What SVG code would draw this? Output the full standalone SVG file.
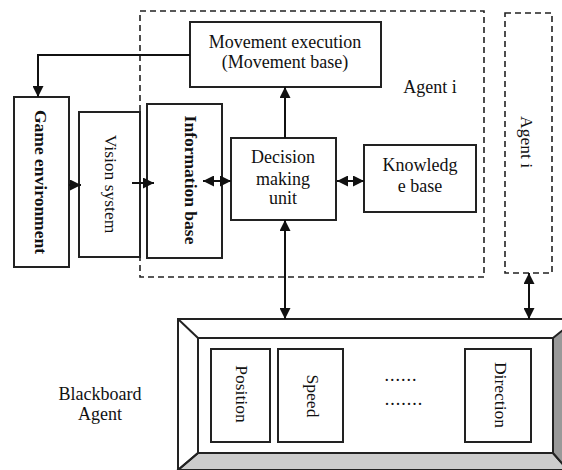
<svg xmlns="http://www.w3.org/2000/svg" width="562" height="470" viewBox="0 0 562 470" font-family="'Liberation Serif', 'DejaVu Serif', serif">
<defs>
<marker id="ah" viewBox="0 0 10 10" refX="10" refY="5" markerWidth="11" markerHeight="11" markerUnits="userSpaceOnUse" orient="auto-start-reverse">
<path d="M0,0 L10,5 L0,10 z" fill="#111"/>
</marker>
</defs>
<style>
.box{fill:#fff;stroke:#222;stroke-width:2}
.dash{fill:none;stroke:#222;stroke-width:1.6;stroke-dasharray:6,4}
.t{font-size:18px;fill:#111;text-anchor:middle}
.r{font-size:17.5px;fill:#111;text-anchor:middle;dominant-baseline:central}
.b{font-weight:bold}
.ln{fill:none;stroke:#111;stroke-width:2}
</style>
<rect width="562" height="470" fill="#fff"/>

<g id="agent-i">
<rect class="dash" x="140" y="11" width="344" height="266"/>
<text class="t" x="430" y="93">Agent i</text>
</g>
<g id="agent-j">
<rect class="dash" x="505" y="13" width="47" height="260"/>
<text class="r" transform="translate(527,142) rotate(90)">Agent i</text>
</g>

<g id="movement">
<rect class="box" x="190" y="22" width="191" height="65"/>
<text class="t" x="285" y="48">Movement execution</text>
<text class="t" x="285" y="68">(Movement base)</text>
</g>
<g id="game-env">
<rect class="box" x="14" y="97" width="55" height="170"/>
<text class="r b" transform="translate(41,182) rotate(90)">Game environment</text>
</g>
<g id="vision">
<rect class="box" x="79" y="112" width="61" height="145"/>
<text class="r" transform="translate(111,184) rotate(90)">Vision system</text>
</g>
<g id="info">
<rect class="box" x="147" y="104" width="75" height="154"/>
<text class="r b" transform="translate(191,180) rotate(90)">Information base</text>
</g>
<g id="decision">
<rect class="box" x="231" y="138" width="105" height="82"/>
<text class="t" x="283" y="163">Decision</text>
<text class="t" x="283" y="185">making</text>
<text class="t" x="283" y="204">unit</text>
</g>
<g id="knowledge">
<rect class="box" x="364" y="145" width="112" height="67"/>
<text class="t" x="420" y="171">Knowledg</text>
<text class="t" x="420" y="192">e base</text>
</g>

<g id="blackboard">
<rect x="178" y="319" width="390" height="160" fill="#fff" stroke="#222" stroke-width="2"/>
<polygon points="198,453 553,453 568,470 178,470" fill="#cccccc" stroke="#222" stroke-width="2"/>
<polygon points="553,338 568,326 568,470 553,453" fill="#999999" stroke="#222" stroke-width="2"/>
<line x1="178" y1="319" x2="198" y2="338" stroke="#222" stroke-width="2"/>
<line x1="178" y1="470" x2="198" y2="453" stroke="#222" stroke-width="2"/>
<rect x="198" y="338" width="355" height="115" fill="#fff" stroke="#222" stroke-width="2"/>
<text class="t" x="100" y="400">Blackboard</text>
<text class="t" x="100" y="420">Agent</text>
</g>
<g id="position">
<rect class="box" x="211" y="349" width="59" height="93"/>
<text class="r" transform="translate(242,394) rotate(90)">Position</text>
</g>
<g id="speed">
<rect class="box" x="278" y="349" width="65" height="93"/>
<text class="r" transform="translate(313,396) rotate(90)">Speed</text>
</g>
<g id="dots">
<text class="t" x="401" y="381" letter-spacing="1">......</text>
<text class="t" x="404" y="405" letter-spacing="1">.......</text>
</g>
<g id="direction">
<rect class="box" x="465" y="349" width="66" height="93"/>
<text class="r" transform="translate(501,395) rotate(90)">Direction</text>
</g>

<g id="connectors">
<polyline class="ln" points="190,55 38,55 38,97" marker-end="url(#ah)"/>
<line class="ln" x1="69" y1="185" x2="81" y2="185" marker-end="url(#ah)"/>
<line class="ln" x1="132" y1="183" x2="154" y2="183" marker-end="url(#ah)"/>
<line class="ln" x1="203" y1="181" x2="231" y2="181" marker-start="url(#ah)" marker-end="url(#ah)"/>
<line class="ln" x1="285" y1="138" x2="285" y2="87" marker-end="url(#ah)"/>
<line class="ln" x1="285" y1="220" x2="285" y2="319" marker-start="url(#ah)" marker-end="url(#ah)"/>
<line class="ln" x1="337" y1="181" x2="364" y2="181" marker-start="url(#ah)" marker-end="url(#ah)"/>
<line class="ln" x1="529" y1="273" x2="529" y2="319" marker-start="url(#ah)" marker-end="url(#ah)"/>
</g>
</svg>
